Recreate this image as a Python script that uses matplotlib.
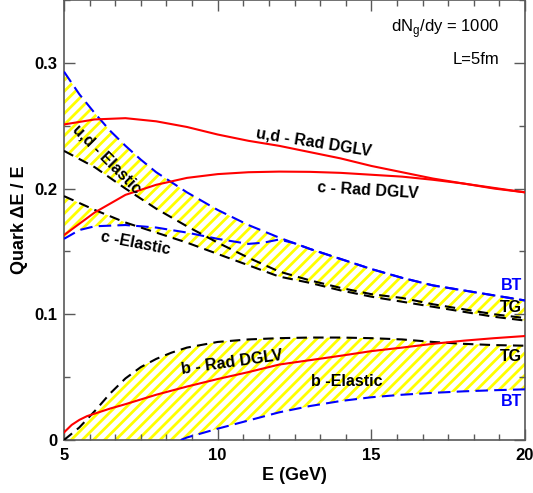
import numpy as np
import matplotlib
matplotlib.use('Agg')
import matplotlib.pyplot as plt
from matplotlib.ticker import MultipleLocator

plt.rcParams['font.family'] = ['Liberation Sans', 'DejaVu Sans']
plt.rcParams['mathtext.fontset'] = 'custom'
plt.rcParams['mathtext.rm'] = 'Liberation Sans'
plt.rcParams['hatch.linewidth'] = 2.0

# Light quarks (u,d)
ud_rad_E = [5, 6, 7, 8, 9, 10, 11, 12, 13, 14, 15, 16, 17, 18, 19, 20]
ud_rad = [0.251, 0.255, 0.256, 0.2535, 0.249, 0.243, 0.238, 0.234, 0.229, 0.224,
          0.218, 0.213, 0.208, 0.204, 0.200, 0.197]
ud_bt_E = [5, 5.5, 6, 6.5, 7, 7.5, 8, 9, 10, 11, 12, 13, 14, 15, 16, 17, 18, 19, 20]
ud_bt = [0.293, 0.275, 0.260, 0.246, 0.234, 0.223, 0.213, 0.197, 0.183, 0.171,
         0.161, 0.152, 0.144, 0.136, 0.129, 0.123, 0.119, 0.115, 0.111]
ud_tg_E = [5, 6, 7, 8, 9, 10, 11, 12, 13, 14, 15, 16, 17, 18, 19, 20]
ud_tg = [0.230, 0.217, 0.200, 0.184, 0.170, 0.157, 0.145, 0.134, 0.127, 0.121,
         0.116, 0.113, 0.108, 0.104, 0.100, 0.097]

# Charm
c_rad_E = [5, 5.5, 6, 6.5, 7, 8, 9, 10, 11, 12, 13, 14, 15, 16, 17, 18, 19, 20]
c_rad = [0.163, 0.172, 0.181, 0.188, 0.195, 0.203, 0.2085, 0.2115, 0.213, 0.2135,
         0.2133, 0.2125, 0.211, 0.2095, 0.207, 0.204, 0.2005, 0.197]
c_bt_E = [5, 5.5, 6, 7, 8, 9, 10, 11, 11.5, 12, 12.5, 13, 14, 15, 16, 17, 18, 19, 20]
c_bt = [0.160, 0.167, 0.170, 0.171, 0.169, 0.165, 0.160, 0.156, 0.157, 0.1595,
        0.1565, 0.152, 0.144, 0.136, 0.129, 0.123, 0.119, 0.115, 0.111]
c_tg_E = [5, 6, 7, 8, 9, 10, 11, 12, 13, 14, 15, 16, 17, 18, 19, 20]
c_tg = [0.194, 0.183, 0.173, 0.165, 0.157, 0.148, 0.139, 0.130, 0.125, 0.119,
        0.114, 0.110, 0.106, 0.102, 0.098, 0.095]

# Bottom
b_rad_E = [5, 5.25, 5.5, 5.75, 6, 6.5, 7, 8, 9, 10, 11, 12, 13, 14, 15, 16, 17, 18, 19, 20]
b_rad = [0.006, 0.012, 0.016, 0.019, 0.021, 0.025, 0.0285, 0.036, 0.0425, 0.0485,
         0.054, 0.060, 0.0635, 0.067, 0.0707, 0.0735, 0.0765, 0.079, 0.081, 0.0827]
b_tg_E = [5, 5.5, 6, 6.5, 7, 7.5, 8, 8.5, 9, 10, 11, 12, 13, 14, 15, 16, 17, 18, 19, 20]
b_tg = [0.0, 0.010, 0.023, 0.037, 0.049, 0.058, 0.0645, 0.0695, 0.0735, 0.078, 0.080,
        0.081, 0.0815, 0.0815, 0.081, 0.080, 0.078, 0.0765, 0.0755, 0.075]
b_bt_E = [8.8, 9, 10, 11, 12, 13, 14, 15, 16, 17, 18, 19, 20]
b_bt = [0.0, 0.002, 0.009, 0.0155, 0.022, 0.027, 0.031, 0.034, 0.036, 0.0375,
        0.0387, 0.0396, 0.0403]

RED = '#ff0000'
BLUE = '#0000ff'
YELLOW = '#ffff00'


def band(ax, e1, y1, e2, y2):
    # hatched yellow band between two curves, clipped at zero
    e = np.union1d(e1, e2)
    lo = np.interp(e, e1, y1, left=0.0)
    hi = np.interp(e, e2, y2, left=0.0)
    ax.fill_between(e, lo, hi, facecolor='white', edgecolor=YELLOW,
                    hatch='///', linewidth=0, zorder=1)


fig = plt.figure(figsize=(5.33, 4.93), dpi=100)
ax = fig.add_axes([64 / 533, 53 / 493, 461 / 533, 440 / 493])

band(ax, ud_tg_E, ud_tg, ud_bt_E, ud_bt)
band(ax, c_tg_E, c_tg, c_bt_E, c_bt)
band(ax, b_bt_E, b_bt, b_tg_E, b_tg)

for e, y in [(ud_bt_E, ud_bt), (c_bt_E, c_bt), (b_bt_E, b_bt)]:
    ax.plot(e, y, color=BLUE, lw=1.5, dashes=(6, 3), zorder=3)
for e, y in [(ud_tg_E, ud_tg), (c_tg_E, c_tg), (b_tg_E, b_tg)]:
    ax.plot(e, y, color='black', lw=1.5, dashes=(5, 3), zorder=3)
for e, y in [(ud_rad_E, ud_rad), (c_rad_E, c_rad), (b_rad_E, b_rad)]:
    ax.plot(e, y, color=RED, lw=1.5, zorder=4)

ax.set_xlim(5, 20)
ax.set_ylim(0, 0.35)
ax.xaxis.set_major_locator(MultipleLocator(5))
ax.xaxis.set_minor_locator(MultipleLocator(5 / 6))
ax.yaxis.set_major_locator(MultipleLocator(0.1))
ax.yaxis.set_minor_locator(MultipleLocator(0.05))
ax.xaxis.set_major_formatter(lambda v, p: f'{v:g}')
ax.yaxis.set_major_formatter(lambda v, p: f'{v:g}')

for s in ax.spines.values():
    s.set_color('0.35')
    s.set_linewidth(1.2)
ax.tick_params(which='both', direction='in', top=True, right=True,
               color='0.35', width=1.0, labelsize=12)
ax.tick_params(which='major', length=8)
ax.tick_params(which='minor', length=4.5)
ax.tick_params(axis='y', pad=5)
ax.tick_params(axis='x', pad=6)
for lab in ax.get_xticklabels() + ax.get_yticklabels():
    lab.set_fontweight('bold')

ax.set_xlabel('E (GeV)', fontsize=13, fontweight='bold')
ax.xaxis.set_label_coords(0.5, -0.061)
ax.set_ylabel('Quark \u0394E / E', fontsize=13, fontweight='bold')
ax.yaxis.set_label_coords(-0.078, 0.5)

ax.text(19.16, 0.3246, r'dN$_\mathregular{g}$/dy = 1000', fontsize=12,
        ha='right', va='baseline')
ax.text(19.16, 0.299, 'L=5fm', fontsize=12, ha='right', va='baseline')

lab_kw = dict(fontsize=11.5, fontweight='bold', ha='center', va='center',
              rotation_mode='anchor', zorder=5)
ax.text(13.12, 0.237, 'u,d - Rad DGLV', rotation=-9, **lab_kw)
ax.text(14.89, 0.198, 'c - Rad DGLV', rotation=-3.5, **lab_kw)
ax.text(6.38, 0.2235, 'u,d - Elastic', rotation=-45, **lab_kw)
ax.text(7.34, 0.1563, 'c -Elastic', rotation=-11, **lab_kw)
ax.text(10.47, 0.0617, 'b - Rad DGLV', rotation=8, **lab_kw)
ax.text(14.2, 0.0465, 'b -Elastic', **lab_kw)

side_kw = dict(fontsize=11.5, fontweight='bold', ha='right', va='center', zorder=5)
ax.text(19.9, 0.1225, 'BT', color=BLUE, **side_kw)
ax.text(19.9, 0.1054, 'TG', color='black', **side_kw)
ax.text(19.9, 0.0668, 'TG', color='black', **side_kw)
ax.text(19.9, 0.031, 'BT', color=BLUE, **side_kw)

fig.savefig('out.png', dpi=100)
